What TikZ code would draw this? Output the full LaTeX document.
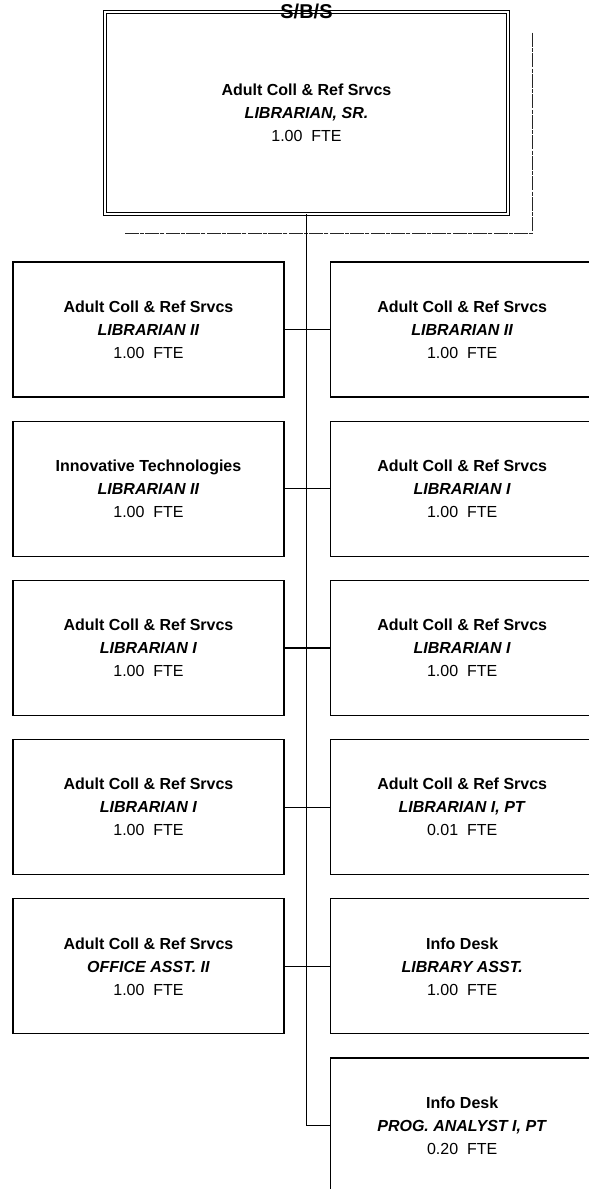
\documentclass[tikz,border=0pt]{standalone}
\usepackage{fontspec}
\setmainfont{Liberation Sans}
\usetikzlibrary{positioning, calc}

\begin{document}
\begin{tikzpicture}[
    x=1pt, y=-1pt,
    node distance=23pt and 45pt,
    post/.style={draw=black, line width=1.2pt, minimum width=271pt, minimum height=135pt, inner sep=0pt, align=center, font=\fontsize{16}{23}\selectfont},
    rpost/.style={post, minimum width=264pt},
    head/.style={post, double, double distance=2.4pt, line width=0.9pt, minimum width=403pt, minimum height=202pt},
    link/.style={draw=black, line width=1.2pt},
    ghost/.style={draw=black!85, line width=0.9pt, dash pattern=on 14pt off 1.5pt on 4pt off 1pt}
]
\useasboundingbox (0,0) rectangle (589,1189);

\node[head] (sr) at (306.5,113) {
    \textbf{Adult Coll \& Ref Srvcs}\\ \textbf{\textit{LIBRARIAN, SR.}}\\ 1.00~~FTE
};
\node[font=\fontsize{20}{24}\selectfont\bfseries] (srtag) at (sr.north) {S/B/S};
\draw[ghost] ($(sr.north east)+(24,21)$) |- ($(sr.south west)+(20,19)$);

\node[post] (l2a) at (148.5,329.5) {
    \textbf{Adult Coll \& Ref Srvcs}\\ \textbf{\textit{LIBRARIAN II}}\\ 1.00~~FTE
};
\node[post, below=of l2a] (l2c) {
    \textbf{Innovative Technologies}\\ \textbf{\textit{LIBRARIAN II}}\\ 1.00~~FTE
};
\node[post, below=of l2c] (l1b) {
    \textbf{Adult Coll \& Ref Srvcs}\\ \textbf{\textit{LIBRARIAN I}}\\ 1.00~~FTE
};
\node[post, below=of l1b] (l1d) {
    \textbf{Adult Coll \& Ref Srvcs}\\ \textbf{\textit{LIBRARIAN I}}\\ 1.00~~FTE
};
\node[post, below=of l1d] (oa2) {
    \textbf{Adult Coll \& Ref Srvcs}\\ \textbf{\textit{OFFICE ASST. II}}\\ 1.00~~FTE
};

\node[rpost, right=of l2a] (l2b) {
    \textbf{Adult Coll \& Ref Srvcs}\\ \textbf{\textit{LIBRARIAN II}}\\ 1.00~~FTE
};
\node[rpost, below=of l2b] (l1a) {
    \textbf{Adult Coll \& Ref Srvcs}\\ \textbf{\textit{LIBRARIAN I}}\\ 1.00~~FTE
};
\node[rpost, below=of l1a] (l1c) {
    \textbf{Adult Coll \& Ref Srvcs}\\ \textbf{\textit{LIBRARIAN I}}\\ 1.00~~FTE
};
\node[rpost, below=of l1c] (l1pt) {
    \textbf{Adult Coll \& Ref Srvcs}\\ \textbf{\textit{LIBRARIAN I, PT}}\\ 0.01~~FTE
};
\node[rpost, below=of l1pt] (la) {
    \textbf{Info Desk}\\ \textbf{\textit{LIBRARY ASST.}}\\ 1.00~~FTE
};
\node[rpost, below=of la] (pa) {
    \textbf{Info Desk}\\ \textbf{\textit{PROG. ANALYST I, PT}}\\ 0.20~~FTE
};

\draw[link] (sr.south) -- (sr.south |- pa.west) -- (pa.west);
\draw[link] (l2a) -- (l2b);
\draw[link] (l2c) -- (l1a);
\draw[link] (l1b) -- (l1c);
\draw[link] (l1d) -- (l1pt);
\draw[link] (oa2) -- (la);
\end{tikzpicture}
\end{document}
